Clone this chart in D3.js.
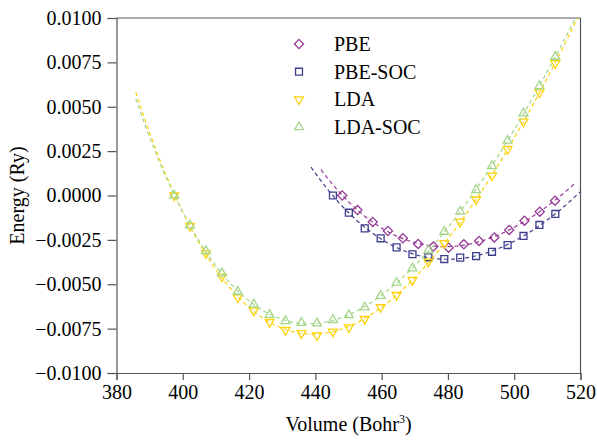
<!DOCTYPE html>
<meta charset="utf-8">
<style>
body { margin: 0; background: #fff; }
</style>
<svg id="chart" width="597" height="440" font-family="'Times New Roman', 'Liberation Serif', Tinos, serif"></svg>
<script src="https://cdnjs.cloudflare.com/ajax/libs/d3/7.8.5/d3.min.js"></script>
<script>

// volumes (Bohr^3) and energies (Ry)
var ldaVolume = [397.4, 402.2, 407.0, 411.8, 416.6, 421.4, 426.2, 431.0, 435.8, 440.5,
                 445.3, 450.1, 454.9, 459.7, 464.5, 469.3, 474.1, 478.9, 483.7, 488.5,
                 493.3, 498.0, 502.8, 507.6, 512.4];
var ldaEnergy = [0.0000, -0.00172, -0.00326, -0.00457, -0.00574, -0.00649, -0.00713, -0.00758, -0.00776, -0.00788,
                 -0.00767, -0.00743, -0.00696, -0.00630, -0.00561, -0.00476, -0.00373, -0.00269, -0.00148, -0.00023,
                 0.00112, 0.00262, 0.00416, 0.00581, 0.00745];
var ldaSocEnergy = [0.0000, -0.00168, -0.00313, -0.00438, -0.00542, -0.00613, -0.00672, -0.00707, -0.00717, -0.00720,
                    -0.00701, -0.00673, -0.00630, -0.00565, -0.00491, -0.00410, -0.00309, -0.00204, -0.00091, 0.00031,
                    0.00166, 0.00309, 0.00463, 0.00617, 0.00782];

var pbeVolume = [448.1, 452.7, 457.3, 461.9, 466.4, 471.0, 475.6, 480.2, 484.8, 489.4,
                 494.0, 498.5, 503.1, 507.7, 512.3];
var pbeEnergy = [0.0000, -0.00082, -0.00149, -0.00200, -0.00241, -0.00273, -0.00288, -0.00294, -0.00275, -0.00256,
                 -0.00236, -0.00194, -0.00142, -0.00091, -0.00029];

var pbeSocVolume = [445.3, 450.1, 454.9, 459.7, 464.5, 469.3, 474.1, 478.9, 483.7, 488.5,
                    493.3, 498.0, 502.8, 507.6, 512.4];
var pbeSocEnergy = [0.0000, -0.00097, -0.00185, -0.00241, -0.00292, -0.00331, -0.00348, -0.00358, -0.00350, -0.00341,
                    -0.00317, -0.00279, -0.00228, -0.00166, -0.00104];

var seriesNames = ["PBE", "PBE-SOC", "LDA", "LDA-SOC"];
var fitRanges = [[441.7, 518.3], [438.7, 520], [385.8, 520], [385.8, 520]];

var xTicks = [380, 400, 420, 440, 460, 480, 500, 520];
var yTicks = [-0.0100, -0.0075, -0.0050, -0.0025, 0.0000, 0.0025, 0.0050, 0.0075, 0.0100];

var colors = ["#953a97", "#3d3d8e", "#fcd20c", "#a5d78b"];
var serif = "'Times New Roman', 'Liberation Serif', Tinos, serif";
var axisColor = "#555";

var svg = d3.select("#chart"),
    margin = {top: 18, right: 16.5, bottom: 67, left: 116.5},
    width = +svg.attr("width") - margin.left - margin.right,
    height = +svg.attr("height") - margin.top - margin.bottom,
    g = svg.append("g").attr("transform", "translate(" + margin.left + "," + margin.top + ")");

var x = d3.scaleLinear().domain([380, 520]).range([0, width]);
var y = d3.scaleLinear().domain([-0.01, 0.01]).range([height, 0]);

// E(V) fit: cubic in V^(-2/3) (Birch-Murnaghan form), least squares
function fitEos(vs, es) {
  var v0 = d3.mean(vs);
  var A = [[0,0,0,0],[0,0,0,0],[0,0,0,0],[0,0,0,0]], b = [0,0,0,0];
  vs.forEach(function(v, i) {
    var t = Math.pow(v / v0, -2/3), p = [1, t, t*t, t*t*t];
    for (var r = 0; r < 4; r++) {
      b[r] += p[r] * es[i];
      for (var c = 0; c < 4; c++) A[r][c] += p[r] * p[c];
    }
  });
  for (var k = 0; k < 4; k++) {
    for (var r = k + 1; r < 4; r++) {
      var f = A[r][k] / A[k][k];
      for (var c = k; c < 4; c++) A[r][c] -= f * A[k][c];
      b[r] -= f * b[k];
    }
  }
  var coef = [0,0,0,0];
  for (var r = 3; r >= 0; r--) {
    var s = b[r];
    for (var c = r + 1; c < 4; c++) s -= A[r][c] * coef[c];
    coef[r] = s / A[r][r];
  }
  return function(v) {
    var t = Math.pow(v / v0, -2/3);
    return coef[0] + coef[1]*t + coef[2]*t*t + coef[3]*t*t*t;
  };
}

var series = [
  {vol: pbeVolume, en: pbeEnergy},
  {vol: pbeSocVolume, en: pbeSocEnergy},
  {vol: ldaVolume, en: ldaEnergy},
  {vol: ldaVolume, en: ldaSocEnergy}
];

var symbols = [
  {type: d3.symbolSquare, size: 42, rotate: 45},
  {type: d3.symbolSquare, size: 48, rotate: 0},
  {type: d3.symbolTriangle, size: 34, rotate: 180},
  {type: d3.symbolTriangle, size: 34, rotate: 0}
];

svg.append("defs").append("clipPath").attr("id", "plotClip")
  .append("rect").attr("width", width).attr("height", height);

// frame
g.append("line").attr("x1", 0).attr("x2", width).attr("y1", 0).attr("y2", 0)
  .attr("stroke", axisColor).attr("stroke-width", 1.2);
g.append("line").attr("x1", width).attr("x2", width).attr("y1", 0).attr("y2", height)
  .attr("stroke", axisColor).attr("stroke-width", 1.2);

function styleAxis(sel) {
  sel.attr("font-family", serif);
  sel.selectAll("path, line").attr("stroke", axisColor).attr("stroke-width", 1.2);
  sel.selectAll("text")
    .style("font-family", serif)
    .style("font-size", "20px")
    .attr("fill", "#000");
}

g.append("g")
    .attr("transform", "translate(0," + height + ")")
    .call(d3.axisBottom(x).tickValues(xTicks).tickSize(7).tickPadding(5).tickFormat(d3.format("d")))
    .call(styleAxis);

g.append("g")
    .call(d3.axisLeft(y).tickValues(yTicks).tickSize(9).tickPadding(6).tickFormat(d3.format(".4f")))
    .call(styleAxis);

var line = d3.line()
    .x(function(d) { return x(d[0]); })
    .y(function(d) { return y(d[1]); });

series.forEach(function(s, i) {
  var f = fitEos(s.vol, s.en);
  var pts = d3.range(0, 201).map(function(k) {
    var v = fitRanges[i][0] + (fitRanges[i][1] - fitRanges[i][0]) * k / 200;
    return [v, f(v)];
  });
  g.append("path")
      .datum(pts)
      .attr("clip-path", "url(#plotClip)")
      .attr("fill", "none")
      .attr("stroke", colors[i])
      .attr("stroke-width", 1.2)
      .attr("stroke-dasharray", "4,3")
      .attr("d", line);

  g.append("g").selectAll("path")
    .data(s.vol.map(function(v, j) { return [v, s.en[j]]; }))
    .enter().append("path")
      .attr("transform", function(d) {
        return "translate(" + x(d[0]) + "," + y(d[1]) + ") rotate(" + symbols[i].rotate + ")";
      })
      .attr("d", d3.symbol().type(symbols[i].type).size(symbols[i].size))
      .attr("fill", "none")
      .attr("stroke", colors[i])
      .attr("stroke-width", 1.3);
});

// legend
var legend = svg.append("g").selectAll("g")
  .data(seriesNames)
  .enter().append("g")
    .attr("transform", function(d, i) { return "translate(299," + (44 + i * 27.7) + ")"; });

legend.append("path")
    .attr("transform", function(d, i) { return "rotate(" + symbols[i].rotate + ")"; })
    .attr("d", function(d, i) { return d3.symbol().type(symbols[i].type).size(symbols[i].size)(); })
    .attr("fill", "none")
    .attr("stroke", function(d, i) { return colors[i]; })
    .attr("stroke-width", 1.3);

legend.append("text")
    .attr("x", 35)
    .attr("dy", "0.35em")
    .style("font-family", serif)
    .style("font-size", "20px")
    .text(function(d) { return d; });

// axis titles
svg.append("text")
    .attr("transform", "translate(24," + (margin.top + height / 2) + ") rotate(-90)")
    .attr("text-anchor", "middle")
    .style("font-family", serif)
    .style("font-size", "20px")
    .text("Energy (Ry)");

var xt = svg.append("text")
    .attr("x", margin.left + width / 2)
    .attr("y", 431)
    .attr("text-anchor", "middle")
    .style("font-family", serif)
    .style("font-size", "20px");
xt.append("tspan").text("Volume (Bohr");
xt.append("tspan").attr("dy", -8).style("font-size", "12px").text("3");
xt.append("tspan").attr("dy", 8).text(")");

</script>
